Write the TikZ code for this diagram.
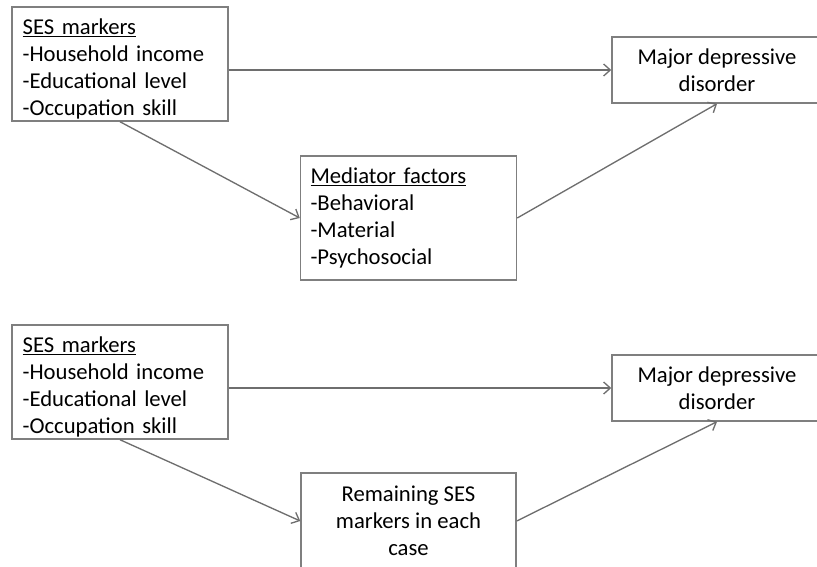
\documentclass[tikz,border=0pt]{standalone}
\usepackage{fontspec}
\setmainfont{Carlito}
\usepackage{tikz}
\usetikzlibrary{arrows.meta,positioning}

\definecolor{boxgray}{HTML}{7F7F7F}
\definecolor{linegray}{HTML}{6E6E6E}

\begin{document}
\begin{tikzpicture}[x=0.75pt,y=-0.75pt,
  box/.style={draw=boxgray, line width=1.1pt, fill=white, inner ysep=0pt,
    font=\fontsize{17}{20.4}\selectfont},
  listbox/.style={box, align=left, inner xsep=7.5pt, text width=146pt},
  arr/.style={draw=linegray, line width=1pt, -{Straight Barb[length=5pt,width=9pt]}}]
  \useasboundingbox (0,0) rectangle (817,567);
  % upper model: mediation
  \node[listbox, minimum width=162pt, minimum height=85.5pt] (ses1) at (120,64)
    {\rule{0pt}{19pt}\underline{SES markers}\\-Household income\\-Educational level\\-Occupation skill};
  \node[box, align=center, minimum width=157.5pt, minimum height=49.5pt] (mdd1) at (717,70)
    {Major depressive\\disorder};
  \node[listbox, text width=147pt, minimum width=161.25pt, minimum height=93pt] (med) at (408.5,218)
    {\underline{Mediator factors}\\-Behavioral\\-Material\\-Psychosocial};
  \draw[arr] (ses1.east |- mdd1.west) -- (mdd1.west);
  \draw[arr] (ses1.south) -- (med.west);
  \draw[arr] (med.east) -- (mdd1.south);
  % lower model: remaining markers
  \node[listbox, minimum width=162pt, minimum height=85.5pt] (ses2) at (120,382)
    {\rule{0pt}{19pt}\underline{SES markers}\\-Household income\\-Educational level\\-Occupation skill};
  \node[box, align=center, minimum width=157.5pt, minimum height=49.5pt] (mdd2) at (717,388)
    {Major depressive\\disorder};
  \node[box, align=center, minimum width=161.25pt, minimum height=72pt] (rem) at (408.5,521)
    {Remaining SES\\markers in each\\case};
  \draw[arr] (ses2.east |- mdd2.west) -- (mdd2.west);
  \draw[arr] (ses2.south) -- (rem.west);
  \draw[arr] (rem.east) -- (mdd2.south);
\end{tikzpicture}
\end{document}
